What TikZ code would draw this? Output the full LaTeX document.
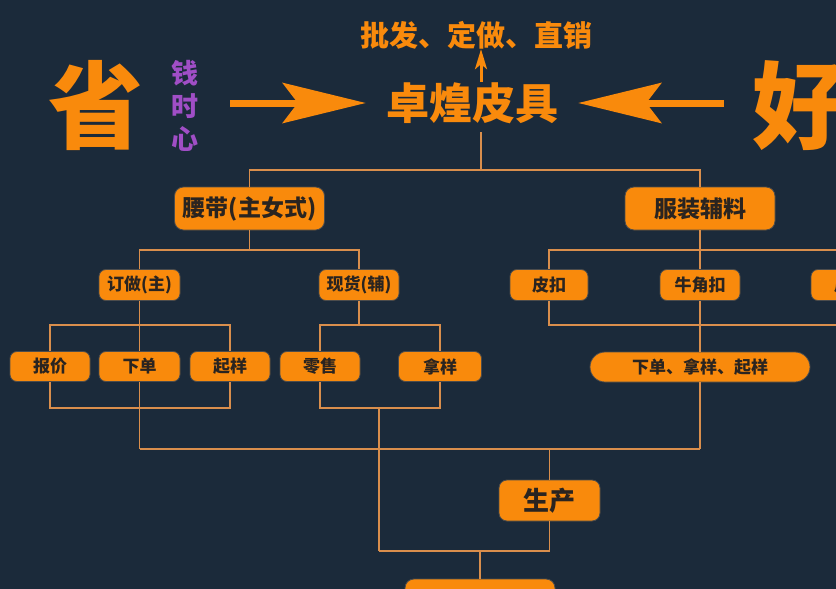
\documentclass[tikz,border=0pt]{standalone}
\usepackage{fontspec}
\setmainfont{Noto Sans CJK SC}
\usepackage{xcolor}
\usepackage{tikz}
\usetikzlibrary{positioning,arrows.meta}

\definecolor{bg}{HTML}{1B2A3A}
\definecolor{brand}{HTML}{F98A0C}
\definecolor{wire}{HTML}{D98E4C}
\definecolor{ink}{HTML}{2A2420}
\definecolor{plum}{HTML}{A04EC6}

\begin{document}
\begin{tikzpicture}[
  x=1pt, y=-1pt,
  box/.style={draw=black!70, line width=0.8pt, fill=brand, rounded corners=7pt, text=ink,
    inner sep=0pt, minimum width=80pt, minimum height=30pt,
    font=\bfseries\fontsize{17pt}{20pt}\selectfont},
  bigbox/.style={box, minimum width=150pt, minimum height=43pt, rounded corners=9pt,
    font=\bfseries\fontsize{23pt}{26pt}\selectfont},
  title/.style={text=brand, inner sep=0pt, font=\bfseries\fontsize{#1}{#1}\selectfont},
  link/.style={draw=wire, line width=1.6pt},
  bigarrow/.style={draw=brand, line width=7pt, -{Stealth[length=83pt, width=40pt, inset=15pt]}},
  smallarrow/.style={draw=brand, line width=3pt, -{Stealth[length=20pt, width=12pt, inset=5pt]}}
]
\useasboundingbox (0,0) rectangle (836,589);
\fill[bg] (0,0) rectangle (836,589);
\clip (0,0) rectangle (836,589);

% header
\node[title=29pt] (pf) at (476,35) {批发、定做、直销};
\node[title=43pt, inner xsep=20pt] (zhuo) at (472,103) {卓煌皮具};
\node[title=95pt] (sheng) at (96,105) {省};
\node[text=plum, inner sep=0pt, align=center,
  font=\bfseries\fontsize{27pt}{33pt}\selectfont] (qian) at (185,106) {钱\\时\\心};
\node[title=95pt] (hao) at (800,106) {好};

\coordinate (lft) at (230,103);
\coordinate (rgt) at (724,103);
\coordinate (up0) at (481,82);
\draw[bigarrow] (lft) -- (zhuo.west);
\draw[bigarrow] (rgt) -- (zhuo.east);
\draw[smallarrow] (up0) -- (pf.south -| up0);

% boxes
\node[bigbox] (yd) at (249.5,208.5) {腰带(主女式)};
\node[bigbox] (fz) at (700,208.5) {服装辅料};

\node[box, minimum width=81pt, minimum height=31pt] (dz) at (139.5,285) {订做(主)};
\node[box, minimum height=31pt] (xh) at (359,285) {现货(辅)};
\node[box, minimum width=78pt, minimum height=31pt] (pk) at (549,285) {皮扣};
\node[box, minimum height=31pt] (njk) at (700,285) {牛角扣};
\node[box, minimum height=31pt] (pd) at (851,285) {皮带};

\node[box] (bj) at (50,366.5) {报价};
\node[box, minimum width=81pt] (xd) at (139.5,366.5) {下单};
\node[box] (qy) at (230,366.5) {起样};
\node[box] (ls) at (320,366.5) {零售};
\node[box, minimum width=83pt] (ny) at (440,366.5) {拿样};
\node[box, minimum width=220pt, rounded corners=15pt] (dnq) at (700,367) {下单、拿样、起样};

\node[box, minimum width=101pt, minimum height=41pt, rounded corners=8pt,
  font=\bfseries\fontsize{26pt}{28pt}\selectfont] (sc) at (549.5,500.5) {生产};
\node[box, minimum width=150pt, minimum height=46pt, rounded corners=9pt] (bt) at (480,602) {};

% junctions
\coordinate (top0) at (481,132);
\coordinate (j0) at (481,170);
\coordinate (j1) at (249.5,250);
\coordinate (j2) at (139.5,325);
\coordinate (j3) at (139.5,408);
\coordinate (j4) at (139.5,449);
\coordinate (j5) at (359,325);
\coordinate (j6) at (379,408);
\coordinate (j7) at (700,250);
\coordinate (j8) at (700,325);
\coordinate (j9) at (379,551);
\coordinate (j10) at (700,449);

% connectors
\draw[link] (top0) -- (j0);
\draw[link] (yd.north) |- (j0) -| (fz.north);

\draw[link] (yd.south) -- (j1);
\draw[link] (dz.north) |- (j1) -| (xh.north);

\draw[link] (dz.south) -- (j2);
\draw[link] (bj.north) |- (j2) -| (qy.north);
\draw[link] (j2) -- (xd.north);
\draw[link] (bj.south) |- (j3) -| (qy.south);
\draw[link] (xd.south) -- (j3) -- (j4);

\draw[link] (xh.south) -- (j5);
\draw[link] (ls.north) |- (j5) -| (ny.north);
\draw[link] (ls.south) |- (j6) -| (ny.south);
\draw[link] (j6) -- (j9);

\draw[link] (fz.south) -- (j7);
\draw[link] (pk.north) |- (j7) -| (pd.north);
\draw[link] (j7) -- (njk.north);
\draw[link] (pk.south) |- (j8) -| (pd.south);
\draw[link] (njk.south) -- (dnq.north);
\draw[link] (dnq.south) -- (j10);

\draw[link] (j4) -- (j10);
\draw[link] (j4 -| sc.north) -- (sc.north);
\draw[link] (sc.south) |- (j9);
\draw[link] (bt.north) -- (bt.north |- j9);
\end{tikzpicture}
\end{document}
